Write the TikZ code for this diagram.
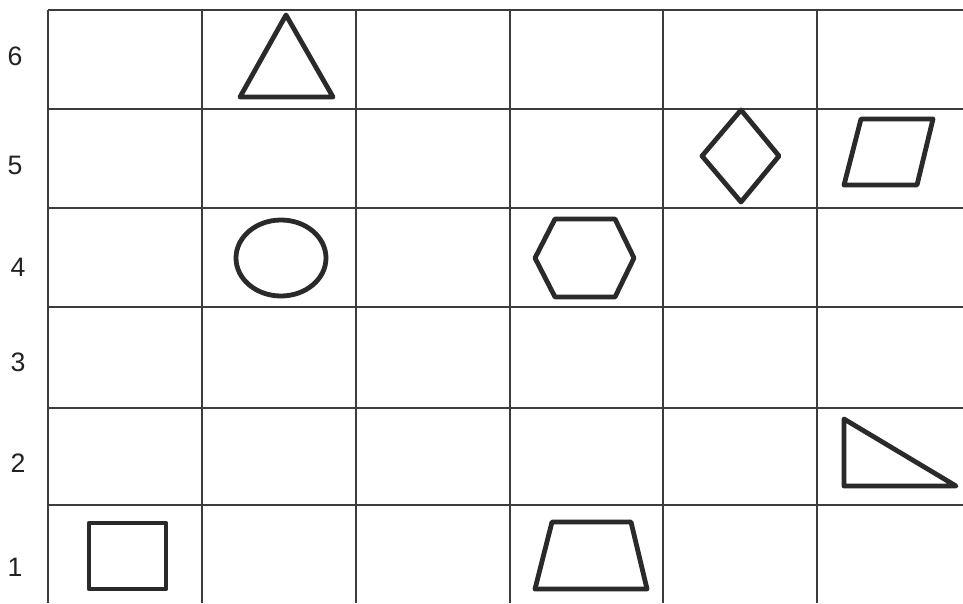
\documentclass[tikz,border=0pt]{standalone}
\usepackage{fontspec}
\setmainfont{Liberation Sans}
\usepackage{tikz}
\usetikzlibrary{calc}
\definecolor{gridline}{HTML}{3C3C3C}
\definecolor{shapeink}{HTML}{2A2A2A}
\definecolor{rowlabel}{HTML}{222222}

\begin{document}
\begin{tikzpicture}[
    x=0.75pt, y=-0.75pt,
    every node/.style={font=\fontsize{20}{22}\selectfont},
    cellline/.style={gridline, line width=1.2pt},
    figure/.style={shapeink, line width=3.6pt, line join=round, line cap=round},
    rowlbl/.style={color=rowlabel, inner sep=0pt},
]

\useasboundingbox (0,0) rectangle (963,603);
\fill[white] (0,0) rectangle (963,603);

% grid (cropped at right and bottom)
\foreach \x in {48,202,356,510,663,817}{
  \draw[cellline] (\x,10) -- (\x,603);
}
\foreach \y in {10,109,208,307,408,505}{
  \draw[cellline] (48,\y) -- (963,\y);
}

% row numbers
\node[rowlbl] (r6) at (15,56) {6};
\node[rowlbl] (r5) at (15,165) {5};
\node[rowlbl] (r4) at (18,267) {4};
\node[rowlbl] (r3) at (18,362) {3};
\node[rowlbl] (r2) at (18,463) {2};
\node[rowlbl] (r1) at (15,567) {1};

% Row 6: triangle
\draw[figure] (286,15) -- (333,97) -- (240,97) -- cycle;

% Row 5: diamond and parallelogram
\draw[figure] (741,110) -- (779,156) -- (741,202) -- (702,156) -- cycle;
\draw[figure] (861,119) -- (933,119) -- (917,185) -- (844,185) -- cycle;

% Row 4: ellipse and hexagon
\draw[figure] (281,258) ellipse (45 and 38);
\draw[figure] (555,219) -- (615,219) -- (634,258) -- (615,297) -- (555,297) -- (535,258) -- cycle;

% Row 2: right triangle
\draw[figure] (844,419) -- (956,486) -- (844,486) -- cycle;

% Row 1: square and trapezoid
\draw[figure] (89,523) rectangle (166,589);
\draw[figure] (552,522) -- (631,522) -- (647,589) -- (535,589) -- cycle;

\end{tikzpicture}
\end{document}
